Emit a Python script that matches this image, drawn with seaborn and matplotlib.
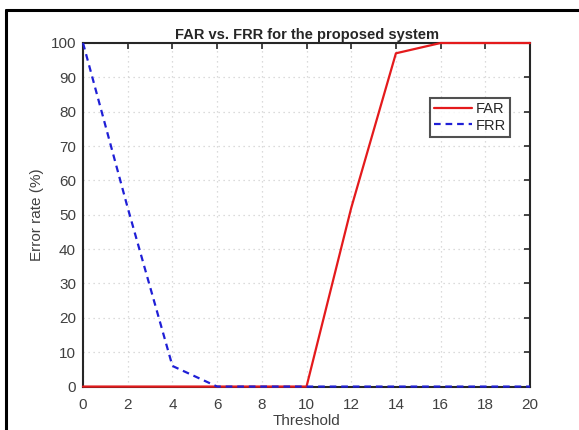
import matplotlib
matplotlib.use("Agg")
import matplotlib.pyplot as plt
import seaborn as sns
import pandas as pd
from matplotlib.lines import Line2D

threshold = [0, 2, 4, 6, 8, 10, 12, 14, 16, 18, 20]
far = [0, 0, 0, 0, 0, 0, 52, 97, 100, 100, 100]
frr = [100, 52, 6, 0, 0, 0, 0, 0, 0, 0, 0]

df = pd.DataFrame({"Threshold": threshold, "FAR": far, "FRR": frr})

sns.set_style("white")
plt.rcParams["font.family"] = ["Liberation Sans", "DejaVu Sans"]

fig = plt.figure(figsize=(5.79, 4.30), dpi=100)
ax = fig.add_axes([0.1434, 0.101, 0.7720, 0.799])

sns.lineplot(data=df, x="Threshold", y="FAR", ax=ax, color="#e41a1c",
             linewidth=1.6, label="FAR", zorder=3, clip_on=False)
sns.lineplot(data=df, x="Threshold", y="FRR", ax=ax, color="#1f1fd6",
             linewidth=1.6, linestyle=(0, (3, 2.2)), label="FRR",
             zorder=4, clip_on=False)

ax.set_xlim(0, 20)
ax.set_ylim(0, 100)
ax.set_xticks(range(0, 21, 2))
ax.set_yticks(range(0, 101, 10))
ax.grid(True, linestyle=(0, (1, 3)), color="#d0d0d0", linewidth=0.9)
ax.tick_params(direction="in", length=4, width=1.2, colors="#262626",
               labelcolor="#404040", labelsize=11, top=True, right=True,
               pad=5)
ax.tick_params(axis="x", pad=8)
for s in ax.spines.values():
    s.set_color("#262626")
    s.set_linewidth(1.5)

ax.set_xlabel("Threshold", fontsize=11, color="#404040", labelpad=2)
ax.set_ylabel("Error rate (%)", fontsize=11, color="#404040", labelpad=5)
ax.set_title("FAR vs. FRR for the proposed system", fontsize=10.5,
             fontweight="bold", pad=3)

leg = ax.legend(loc="upper right", bbox_to_anchor=(0.955, 0.84),
                frameon=True, fancybox=False, fontsize=10.5,
                handlelength=2.6, borderpad=0.3, labelspacing=0.15,
                handletextpad=0.2, borderaxespad=0)
leg.get_frame().set_edgecolor("#262626")
leg.get_frame().set_linewidth(1.5)

# outer border lines (left and top) seen in the reference
fig.add_artist(Line2D([6 / 579, 6 / 579], [0, 1 - 10 / 430], color="black",
                      linewidth=2.2, transform=fig.transFigure))
fig.add_artist(Line2D([6 / 579, 1], [1 - 10 / 430, 1 - 10 / 430],
                      color="black", linewidth=2.2, transform=fig.transFigure))

fig.savefig("out.png", dpi=100)
